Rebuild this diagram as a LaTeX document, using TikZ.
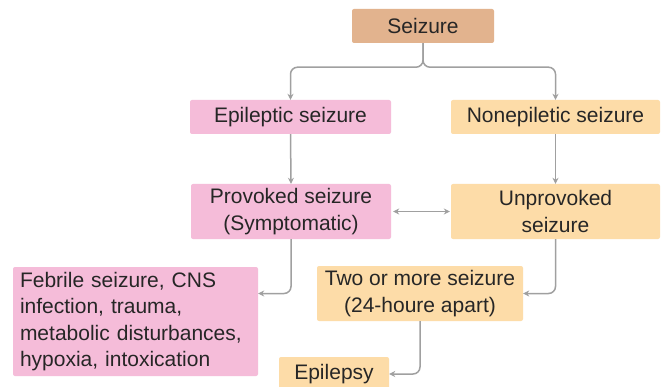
\documentclass[tikz,border=0pt]{standalone}
\usepackage{fontspec}
\setmainfont{Liberation Sans}
\usetikzlibrary{arrows.meta}
\definecolor{tanc}{HTML}{E2B38E}
\definecolor{pinkc}{HTML}{F5BCD9}
\definecolor{orangec}{HTML}{FDDCA8}
\definecolor{linec}{HTML}{A0A0A0}
\definecolor{txtc}{HTML}{262626}
\tikzset{
  box/.style={rectangle, rounded corners=2pt, inner sep=0pt, align=center,
    text=txtc, font=\fontsize{21}{26.5}\selectfont},
  tanbox/.style={box, fill=tanc},
  pinkbox/.style={box, fill=pinkc},
  orangebox/.style={box, fill=orangec},
  conn/.style={draw=linec, line width=1.5pt, rounded corners=7pt,
    -{Stealth[length=6pt,width=6pt]}},
}
\begin{document}
\begin{tikzpicture}[x=1pt,y=-1pt]
\useasboundingbox[fill=white] (0,0) rectangle (663,387);
\clip (0,0) rectangle (663,387);
\node[tanbox, minimum width=142pt, minimum height=34pt] (seizure) at (423,26) {Seizure};
\node[pinkbox, minimum width=201pt, minimum height=34pt] (epi) at (290.5,117) {Epileptic seizure};
\node[orangebox, minimum width=209pt, minimum height=34pt] (nonepi) at (555.5,117) {Nonepiletic seizure};
\node[pinkbox, minimum width=200pt, minimum height=55pt] (prov) at (291,211.5) {Provoked seizure\\(Symptomatic)};
\node[orangebox, minimum width=209pt, minimum height=55pt] (unprov) at (555.5,211.5) {Unprovoked\\seizure};
\node[pinkbox, minimum width=245pt, minimum height=109pt, text width=231pt, align=left] (feb) at (135.5,321.5) {Febrile seizure, CNS\\infection, trauma,\\metabolic disturbances,\\hypoxia, intoxication};
\node[orangebox, minimum width=206pt, minimum height=55pt] (two) at (420,293.5) {Two or more seizure\\(24-houre apart)};
\node[orangebox, minimum width=110pt, minimum height=34pt] (epil) at (334,374) {Epilepsy};
\draw[conn] (seizure.south) -- ++(0,24) -| (epi.north);
\draw[conn] (seizure.south) -- ++(0,24) -| (nonepi.north);
\draw[conn] (epi.south) -- (prov.north);
\draw[conn] (nonepi.south) -- (unprov.north);
\draw[conn, {Stealth[length=6pt,width=6pt]}-{Stealth[length=6pt,width=6pt]}, shorten <=2pt, shorten >=1pt] (prov.east) -- (unprov.west);
\draw[conn] (prov.south) |- (feb.east |- two.east);
\draw[conn] (unprov.south) |- (two.east);
\draw[conn] (two.south) |- (epil.east);
\end{tikzpicture}
\end{document}
